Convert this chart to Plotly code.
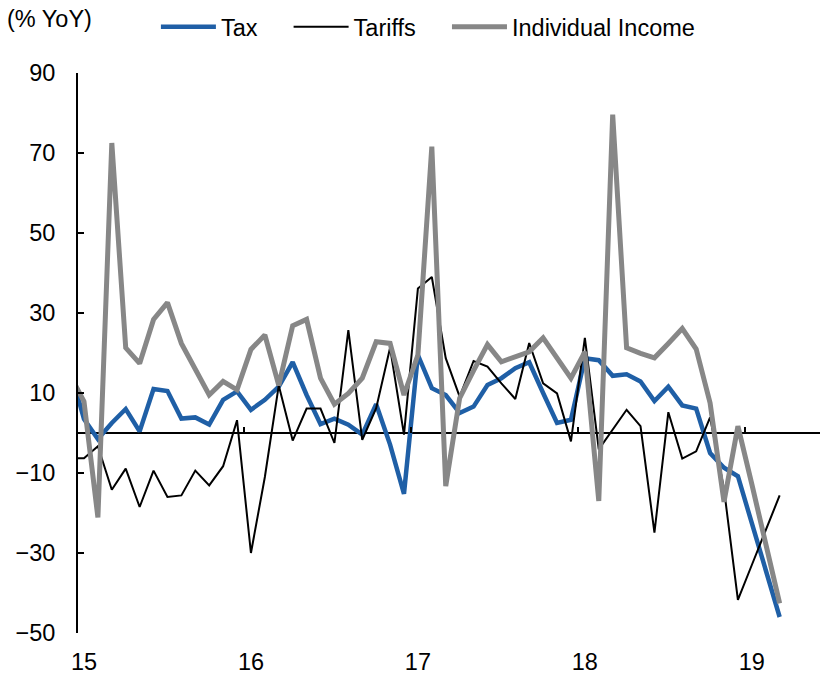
import pandas as pd
import plotly.graph_objects as go

# Monthly observations, Dec 2014 .. Mar 2019 (% YoY)
months = [str(p) for p in pd.period_range("2014-12", "2019-03", freq="M")]

tax = [16.0, 3.5, -1.5, 2.5, 6.0, 0.4, 11.0, 10.5, 3.6, 3.9, 2.1, 8.3, 10.4,
       5.8, 8.3, 11.6, 17.7, 9.5, 2.2, 3.6, 2.1, -0.4, 7.2, -2.9, -15.2,
       19.5, 11.2, 9.5, 5.0, 6.6, 12.0, 13.7, 16.2, 17.7, 10.0, 2.5, 3.3,
       18.7, 18.2, 14.3, 14.7, 12.9, 8.0, 11.6, 6.9, 6.1, -5.0, -8.7, -10.8,
       -22.5, -34.2, -46.0]

tariffs = [-6.4, -6.3, -3.3, -14.2, -8.9, -18.5, -9.4, -16.0, -15.6, -9.4, -13.1, -8.3, 3.2,
           -30.0, -11.0, 11.9, -1.9, 6.1, 6.1, -2.5, 25.7, -1.7, 6.2, 21.3, -0.4,
           36.1, 39.0, 18.7, 9.1, 18.0, 16.6, 12.4, 8.5, 22.5, 12.4, 9.9, -2.1,
           23.8, -4.1, 0.8, 5.8, 1.7, -24.9, 5.2, -6.4, -4.6, 3.9, -14.0, -41.7,
           -33.0, -24.3, -15.6]

individual_income = [14.5, 7.9, -21.1, 72.5, 21.3, 17.4, 28.4, 32.6, 22.4, 15.8, 9.5, 12.9, 10.8,
                     20.9, 24.5, 11.9, 26.8, 28.4, 13.7, 7.2, 9.9, 13.7, 22.8, 22.4, 9.5,
                     19.5, 71.6, -13.3, 8.7, 15.6, 22.1, 17.8, 19.1, 20.3, 23.8, 18.7, 13.7,
                     20.3, -17.0, 79.6, 21.3, 19.9, 18.8, 22.4, 26.1, 21.0, 7.5, -17.2, 1.7,
                     -12.8, -27.8, -42.6]

year_labels = ["15", "16", "17", "18", "19"]
y_ticks = [-50, -30, -10, 10, 30, 50, 70, 90]

# month index: 0 = Jan 2015
x = list(range(-1, len(months) - 1))
jan_idx = [i for i, m in zip(x, months) if m.endswith("-01")]
year_bounds = [i - 0.5 for i in jan_idx[1:]]

FONT = "Liberation Sans, Arial, sans-serif"
FS = 23.5
NB = "\u00a0"

fig = go.Figure()
fig.add_trace(go.Scatter(x=x, y=tax, name="Tax" + NB * 4, mode="lines",
                         line=dict(color="#1f5fa6", width=4.5)))
fig.add_trace(go.Scatter(x=x, y=tariffs, name="Tariffs" + NB * 4, mode="lines",
                         line=dict(color="#000000", width=2)))
fig.add_trace(go.Scatter(x=x, y=individual_income, name="Individual Income", mode="lines",
                         line=dict(color="#878787", width=5)))
# helper trace for the year-boundary tick axis on the zero line
fig.add_trace(go.Scatter(x=[None], y=[None], xaxis="x2", showlegend=False, hoverinfo="skip"))

xr = [-0.43, 52.9]
fig.update_layout(
    width=821, height=676,
    margin=dict(l=78, r=1, t=73, b=40, pad=0),
    paper_bgcolor="white", plot_bgcolor="white",
    font=dict(family=FONT, size=FS, color="black"),
    showlegend=True,
    legend=dict(orientation="h", x=0.105, xanchor="left", y=1.082, yanchor="middle",
                font=dict(family=FONT, size=FS), bgcolor="rgba(0,0,0,0)",
                itemwidth=55, tracegroupgap=0),
    xaxis=dict(range=xr, tickvals=jan_idx, ticktext=year_labels,
               showline=False, ticks="", showgrid=False, zeroline=False,
               ticklabelstandoff=12),
    xaxis2=dict(range=xr, overlaying="x", anchor="free", position=50 / 140, side="top",
                tickvals=year_bounds, ticks="outside", ticklen=6, tickwidth=2,
                tickcolor="black", showticklabels=False, showline=False,
                showgrid=False, zeroline=False),
    yaxis=dict(range=[-50, 90], tickvals=y_ticks, showline=True, linecolor="black",
               linewidth=2, ticks="inside", ticklen=6, tickwidth=2, tickcolor="black",
               showgrid=False, zeroline=True, zerolinecolor="black", zerolinewidth=2,
               ticklabelstandoff=16),
    annotations=[dict(text="(% YoY)", xref="paper", yref="paper", x=-0.098, y=1.097,
                      xanchor="left", yanchor="middle", showarrow=False,
                      font=dict(family=FONT, size=FS))],
)

fig.write_html("out.html", config={"displayModeBar": False},
               post_script="document.body.style.margin='0px';")
